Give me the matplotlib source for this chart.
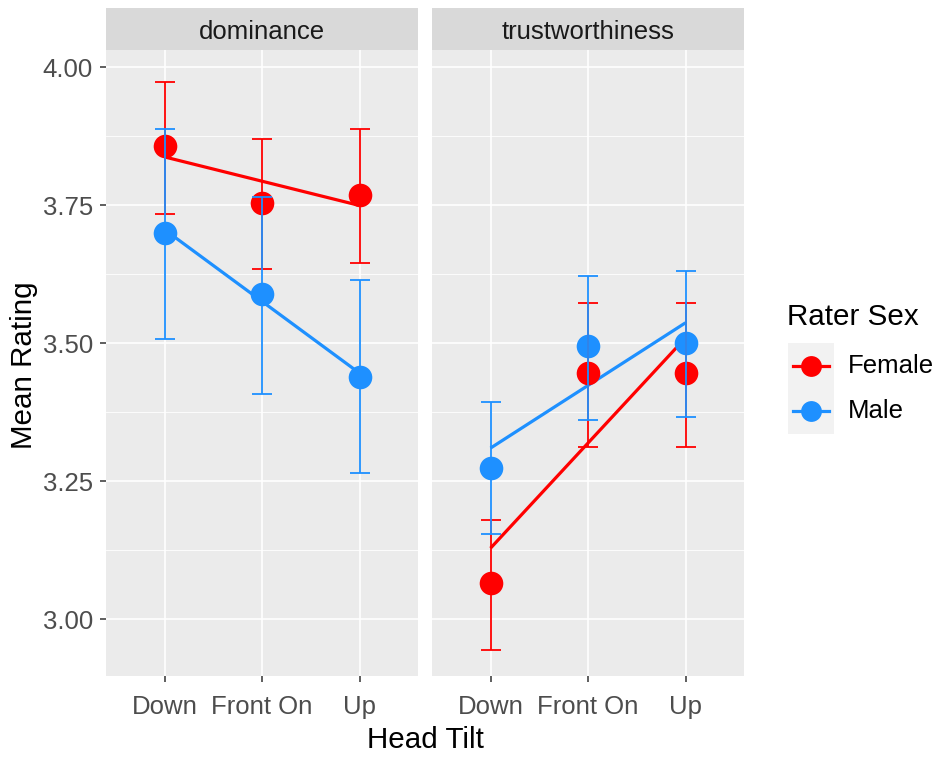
import numpy as np
import matplotlib
matplotlib.use("Agg")
import matplotlib.pyplot as plt
from matplotlib.lines import Line2D

plt.rcParams["font.family"] = ["Liberation Sans", "DejaVu Sans"]

# ---- data -------------------------------------------------------------
tilts = ["Down", "Front On", "Up"]
traits = ["dominance", "trustworthiness"]
sexes = ["Female", "Male"]
sex_colors = {"Female": "#FF0000", "Male": "#1E90FF"}

dominance_female = [3.857, 3.754, 3.769]
dominance_female_lo = [3.734, 3.635, 3.646]
dominance_female_hi = [3.973, 3.870, 3.888]

dominance_male = [3.699, 3.589, 3.439]
dominance_male_lo = [3.507, 3.408, 3.265]
dominance_male_hi = [3.888, 3.765, 3.614]

trust_female = [3.065, 3.446, 3.446]
trust_female_lo = [2.945, 3.312, 3.312]
trust_female_hi = [3.180, 3.573, 3.573]

trust_male = [3.274, 3.495, 3.501]
trust_male_lo = [3.155, 3.360, 3.367]
trust_male_hi = [3.393, 3.621, 3.631]

y_ticks = [3.00, 3.25, 3.50, 3.75, 4.00]
y_tick_labels = ["3.00", "3.25", "3.50", "3.75", "4.00"]

series = {
    ("dominance", "Female"): (dominance_female, dominance_female_lo, dominance_female_hi),
    ("dominance", "Male"): (dominance_male, dominance_male_lo, dominance_male_hi),
    ("trustworthiness", "Female"): (trust_female, trust_female_lo, trust_female_hi),
    ("trustworthiness", "Male"): (trust_male, trust_male_lo, trust_male_hi),
}

# ---- layout (pixel based) --------------------------------------------
W, H = 941, 757
fig = plt.figure(figsize=(W / 100, H / 100), dpi=100)
fig.patch.set_facecolor("white")


def box(l, t, r, b):
    return [l / W, 1 - b / H, (r - l) / W, (b - t) / H]


panel_x = [(106, 418), (432, 744)]
panel_top, panel_bottom = 50, 676
strip_top = 8

small_fs = 18.5
title_fs = 21.3
tick_color = "#4D4D4D"

x = np.arange(1, len(tilts) + 1)

for i, trait in enumerate(traits):
    l, r = panel_x[i]
    ax = fig.add_axes(box(l, panel_top, r, panel_bottom))
    ax.set_facecolor("#EBEBEB")
    for s in ax.spines.values():
        s.set_visible(False)
    ax.set_xlim(0.4, 3.6)
    ax.set_ylim(2.897, 4.031)

    # grid
    for yv in np.arange(3.125, 4.0, 0.25):
        ax.axhline(yv, color="white", lw=0.6, zorder=0.5)
    for yv in y_ticks:
        ax.axhline(yv, color="white", lw=1.2, zorder=0.6)
    for xv in x:
        ax.axvline(xv, color="white", lw=1.2, zorder=0.6)

    for sex in sexes:
        m, lo, hi = series[(trait, sex)]
        m = np.asarray(m)
        lo = np.asarray(lo)
        hi = np.asarray(hi)
        c = sex_colors[sex]
        slope, icpt = np.polyfit(x, m, 1)
        ax.plot(x, icpt + slope * x, color=c, lw=2.3, zorder=2,
                solid_capstyle="butt")
        ax.plot(x, m, "o", color=c, markersize=17, markeredgewidth=0,
                zorder=3)
        ax.errorbar(x, m, yerr=[m - lo, hi - m], fmt="none", ecolor=c,
                    elinewidth=1.3, capsize=7.5, capthick=1.3, zorder=4)

    ax.set_xticks(x)
    ax.set_xticklabels(tilts)
    ax.tick_params(axis="x", length=4.5, width=1.1, color="#333333",
                   labelcolor=tick_color, labelsize=small_fs, pad=9.5)
    if i == 0:
        ax.set_yticks(y_ticks)
        ax.set_yticklabels(y_tick_labels)
        ax.tick_params(axis="y", length=4.5, width=1.1, color="#333333",
                       labelcolor=tick_color, labelsize=small_fs, pad=5)
    else:
        ax.set_yticks([])

    # facet strip
    sax = fig.add_axes(box(l, strip_top, r, panel_top))
    sax.set_facecolor("#D9D9D9")
    sax.set_xticks([])
    sax.set_yticks([])
    for s in sax.spines.values():
        s.set_visible(False)
    fig.text((l + r) / 2 / W, 1 - 32 / H, trait, ha="center", va="center",
             fontsize=small_fs, color="#1A1A1A")

# axis titles
fig.text((106 + 744) / 2 / W, 1 - 748 / H, "Head Tilt", ha="center",
         va="baseline", fontsize=title_fs, color="black")
fig.text(24 / W, 1 - 365 / H, "Mean Rating", ha="center", va="center",
         rotation=90, fontsize=title_fs, color="black")

# legend
fig.text(787 / W, 1 - 325 / H, "Rater Sex", ha="left", va="baseline",
         fontsize=title_fs, color="black")
lax = fig.add_axes(box(788, 343, 834, 434))
lax.set_facecolor("#F2F2F2")
lax.set_xlim(0, 1)
lax.set_ylim(0, 2)
lax.set_xticks([])
lax.set_yticks([])
for s in lax.spines.values():
    s.set_visible(False)
for k, sex in enumerate(sexes):
    yk = 1.5 - k
    c = sex_colors[sex]
    lax.add_line(Line2D([0.1, 0.9], [yk, yk], color=c, lw=2.3))
    lax.add_line(Line2D([0.5], [yk], marker="o", color=c, markersize=15,
                        markeredgewidth=0))
    fig.text(848 / W, 1 - (366 + 45.5 * k) / H, sex, ha="left", va="center",
             fontsize=small_fs, color="black")

fig.savefig("out.png", dpi=100)
